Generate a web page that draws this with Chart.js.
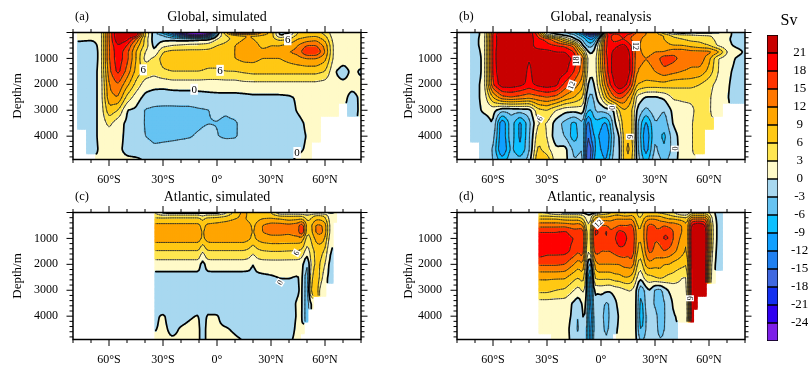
<!DOCTYPE html>
<html>
<head>
<meta charset="utf-8">
<title>Overturning streamfunction</title>
<script src="https://cdn.jsdelivr.net/npm/chart.js@4/dist/chart.umd.min.js"></script>
<style>
body { margin: 0; background: #fff; }
canvas { position: absolute; }
</style>
</head>
<body>
<canvas id="a" width="400" height="185" style="left:0;top:0"></canvas>
<canvas id="b" width="360" height="185" style="left:400px;top:0"></canvas>
<canvas id="c" width="400" height="185" style="left:0;top:180px"></canvas>
<canvas id="d" width="360" height="185" style="left:400px;top:180px"></canvas>
<canvas id="bar" width="68" height="370" style="left:740px;top:0"></canvas>
<script>
var n = null;

// Depth rows shared by the four panels (m)
var depths = [0,100,250,500,750,1000,1500,2000,2500,3000,3500,4000,4500,4900];

// Contour levels and colour boxes, low to high
var levels = [-24,-21,-18,-15,-12,-9,-6,-3,0,3,6,9,12,15,18,21];
var colors = ['#7d1fe8','#3000f0','#1430f0','#4068e0','#2080f0','#10a0ff','#0cc0ff','#66c3f2','#a8d8f0','#fffac8','#ffe650','#ffc814','#ffa500','#ff7700','#ff3300','#ff0000','#c80000'];

var latTicks = [-60,-30,0,30,60];
var latLabels = ['60°S','30°S','0°','30°N','60°N'];
var depthTicks = [1000,2000,3000,4000];

// (a) Global, simulated
var latsA = [-80,-75,-70,-65,-60,-55,-50,-45,-40,-35,-30,-25,-20,-15,-10,-5,0,5,10,15,20,25,30,35,40,45,50,55,60,65,70,75,80];
var globalSim = [
  [n,2,1,.5,15,25,26,25,6,-1.5,-8,-14,-24,-30,-30,-30,-3,9,22,22,20,12,8,-1,-1,6,7,7,5,1,1,1,1],
  [n,1,1,.5,15,25,26,24,6,-1.5,-3,-8,-14,-22,-24,-18,0,6,8,9,9,9,8,-.8,2,7,8,8,6,1,1,1,1],
  [n,.5,.3,.5,15,24,22,15,5,-1.5,-1,-1,-1.5,-1.5,-1,-.5,3,5,7,9,9,7,7,5,6,9,10,11,8,1.5,1,1,1],
  [n,-1,-1,.5,15,21,18,11,5,-1,2,3,3.5,4,4,4.5,6,7,9,11,11,8,9,9,10,12,15,15,11,2,1,1,1],
  [n,-1.5,-1.5,.5,15,20,16,9,3,.3,6,7,7,7,7,7,7.5,8,9,11,11,10,10,10,12,13,18.5,18.5,12,2,1,1,1],
  [n,-1.5,-1.5,.5,15,20,16,9,2,3.5,7.5,8,8,8,8,7.5,7.5,8,9,10,10,9,9,9,10,11,12,12,10,2,1,1,1],
  [n,-1,-1,.5,14,19,14,8,5,4,5.5,6,6,6,6,5.5,5.5,6,6,6.5,7,7,7,7,7,7,7,7,6,.3,-1,.5,-.3],
  [n,-1,-1,.5,12,15,10,5,1.5,1,1,1.5,1.5,1.5,1.5,1.5,1.5,1.5,1.5,2,2,2,2,2,2,2,2,2,1.5,.5,.5,.5,.5],
  [n,-1,-1,.5,11,12,5,1.5,-.8,-1.5,-1.8,-1.8,-1.6,-1.6,-1.3,-1,-.8,-.8,-.8,-.8,-.5,-.5,-.5,-.5,-.3,.3,.5,.5,.5,.5,.5,-.5,.3],
  [n,-1,-1,.5,8,6,-.1,-.5,-3.2,-3.6,-3.6,-3.6,-3.6,-3.6,-3.3,-3.1,-2.3,-2.6,-1.6,-1,-1,-1,-1,-1,-.7,.2,.8,.8,.8,.5,n,-1,.5],
  [n,-1,-1,.5,4,1,-.5,-1,-3.2,-4,-4,-4,-4,-4,-3.6,-3.1,-3.1,-3.6,-3.5,-1.5,-1.5,-1.5,-1.5,-1.2,-1,-.5,.3,.6,n,n,n,n,n],
  [n,n,-1,.5,1.2,.7,-.5,-1,-3,-3.7,-3.7,-3.7,-3.5,-3.2,-2.5,-1.5,-2.9,-3.5,-3.3,-2,-1.5,-1.5,-1.5,-1.3,-1,-.6,.1,.4,n,n,n,n,n],
  [n,n,-1,.3,.5,.4,-.5,-1,-1.5,-2.5,-2.2,-1.8,-1.5,-1.5,-1.2,-1,-1,-1,-1.2,-1.2,-1.2,-1.2,-1.2,-1,-.8,-.3,.2,n,n,n,n,n,n],
  [n,n,n,.3,.5,.4,.3,.3,-.1,-.3,-.3,-.3,-.3,-.3,-.3,-.3,-.3,-.3,-.3,-.3,-.3,-.3,-.3,-.3,-.3,.3,.3,n,n,n,n,n,n]
];

// (b) Global, reanalysis
var latsB = [-80,-75,-70,-65,-60,-55,-50,-45,-40,-35,-30,-25,-20,-15,-10,-7.5,-5,-2.5,0,2.5,5,7.5,10,12.5,15,17.5,20,25,30,35,40,45,50,55,60,65,70,75,80];
var globalRea = [
  [n,n,-1,1,18,24,25,25,24,15,-.5,-1.5,-3,-6,-14,-26,-26,-26,-25,18,23,23,22,21,21,20,14,12,10,3,-1,-2,-1,-1,-1,-.5,.5,-.5,-1],
  [n,n,-1,1,19,24,25,25,24,17,5,1,-.7,-2,-8,-13,-15,-12,-2,16,20,14,17,20,17,15,13,12,11,9,5,4,3.5,3,3,2,.7,-.7,-1],
  [n,n,-1,1.5,19,24,25,25,23,19,17,12,6,.5,-4,-8,-10,-4,5,18,19,16,17,18,16,14,13,11,10,9,7,6,5,5,4,2,.5,-1,-1],
  [n,n,-1,1.5,19,24,25,25,22,20,19,18,17,14,-.5,-4,-4,1,8,18,19,20,21,22,20,17,13,10,11,10,9,9,8,7,6,2.5,.7,-.5,-1],
  [n,n,-2,1.5,19,25,25,25,21,22,22,21,21,18,8,-.1,-.5,2,9,18,20,22,23,24,22,18,13,11,12,12,14,14,13,13,13,10,3,1,-.3,-1],
  [n,n,-3,1.5,19,25,25,24,21,23,24,23,23,20,14,2,.8,2.5,10,17,20,23,25,25,23,18,13,12,13,17,16,14,13,14,10,3,1.5,-.2,-1],
  [n,n,-3,1.5,19,24,25,24,20,24,24,23,22,18,13,1.5,.7,2.5,9,16,20,23,25,25,23,18,12,11,12,14,13,12,11.5,11,8,3,.7,-.7,-1],
  [n,n,-1.5,1.5,18,23,23,22,20,22,23,22,17,14,10,-.3,-1.5,2,7,13,18,21,24,23,20,15,9,8,8,8,7,7,7,6,4,2,.4,-1,-1],
  [n,n,-1,1,9,14,15,14,13,14,15,14,11,9,6,-3,-4,0,3,8,12,15,16,15,12,9,2,-.3,-.5,.5,3.5,3.5,3.5,3.5,3.5,1,.3,-1.5,-1.5],
  [n,n,-1,.5,1,-2,-2,-1.5,-1.3,5,6,3,1,1,1.5,-6,-6,-2,-2.5,-1.5,-1,.3,6,9,8,6,-.5,-4,-1,-3,.8,2,2.5,4,3.5,.7,n,n,n],
  [n,n,-1,-1.5,.2,-12,-4,-10,-4,3,3,-1.5,-4,-7,-3,-15,-8,-7,-8,-10,-6,-.3,2,8,9,6,-2,-10,-3,-5,.3,2,2.8,4,3.5,n,n,n,n],
  [n,n,-1.5,-2.5,-1.5,-12,-4,-10,-3.5,5,3,-2,-3,-8,-3,-17,-10,-8,-10,-13,-8,-2,-.5,7,9,6,-2,-12,-3,-7,-1.5,1.5,2.8,4,n,n,n,n,n],
  [n,n,n,-1.5,-3,-13,-5,-9,-3.5,7,4,.5,1,-4,-3,-19,-14,-7,-9,-12,-7,-1.5,-1.5,7,10,7,-1.5,-11,-2,-6,-2,1.5,2.8,4,n,n,n,n,n],
  [n,n,n,-.5,-3,-8,-4,-5,-2,9,8,1,1,-3,-2,-20,-12,-6,-7,-10,-5,-1,-1.5,7,9,6,-1,-8,-1,-4,-1.5,1.5,2.8,n,n,n,n,n,n]
];

// (c) Atlantic, simulated
var latsC = [-34,-30,-25,-20,-15,-10,-8,-6,-4,0,5,10,15,18,20,22,25,30,35,40,45,47.5,50,52,55,57.5,60,62,64,66];
var atlanticSim = [
  [3,-1,-2,-2,-2,-2,-1,-2,-2,-2,2,7,10,8,6,8,8,6,-.5,-.5,-.5,-.5,-.5,-.5,-.5,-.5,-.5,-.5,-.3,.2],
  [3.5,3,3.5,3.5,3.5,3.5,2,3.5,3.5,3.5,5,8,10,8,6,8,8,7,5,5,5,4.5,3,4,6,6,5,2,.5,.2],
  [7,7,7,7,7,7,5,7,7,7.5,8,9,9.5,8,6.5,8,9,9.5,9,8,8.5,9,5,6,8.5,8.5,7,3,.5,-.1],
  [9.8,9.8,9.8,9.8,9.8,9.8,7.5,9.5,9.8,10,10.5,10.8,11,10,8,10,12,13.5,13.5,13,14,18,7,8,12.5,12.5,11,4,.5,n],
  [11,11,11,11,11,11,8,10.5,11,11,11,11,11,10,8.5,10,12,13,13,12.5,14,19,6,7.5,12.5,13,11,4,.5,n],
  [10.5,10.5,10.5,10.5,10.5,10.5,8,10,10.5,10.5,10.5,10.5,10.5,9.5,8,9.5,10.5,11,11,11,11,11,4,6,10,11,9,3,.3,n],
  [5.7,5.7,5.7,5.7,5.7,5.7,2.5,5.5,5.7,5.7,5.7,5.7,5.7,5,3.5,5,5.7,6,6,5.8,5.7,5,1,4,7,7,5.5,1,-.5,n],
  [1.5,1.5,1.5,1.5,1.5,1.5,-1.8,1.2,1.5,1.5,1.5,1.5,1.5,1.2,-.3,1.2,1.5,1.5,1.5,1.5,1.5,1,-4,3,7,6,3,-.2,-1,n],
  [-1.2,-1.2,-1.2,-1.2,-1.2,-1.2,-2.2,-1.2,-1.2,-1.2,-1.2,-1.2,-1.2,-1.2,-1,-.8,-.6,-.3,.1,.1,-.2,1,-6,4,9,5,.5,-.2,-1,n],
  [-1.5,-1.5,-1.5,-1.5,-1.5,-1.5,-3.5,-1.5,-1.5,-1.5,-1.5,-1.5,-1.5,-1.5,-1.5,-1.5,-1.5,-1.2,-1,-.8,-.3,.8,-6,6,10,.7,.3,n,n,n],
  [-1.5,-1.5,-1.5,-1.5,-1.5,-1.5,-3.5,-1.5,-1.5,-1.5,-1.5,-1.5,-1.5,-1.5,-3.2,-1.5,-1.5,-1.2,-1,-.8,.3,.6,-6,.5,n,n,n,n,n,n],
  [-.3,.3,-1,-.7,-.2,.2,-2,.2,.2,.2,-1,-1.2,-1.4,-1.5,-3.2,-1.5,-1.5,-1.5,-1.5,-1,.3,.5,-6,n,n,n,n,n,n,n],
  [-.1,.5,-.5,.2,.5,.5,-1.5,.5,.5,.3,.2,-.3,-1,-1,-1,-1,-1,-1,-1,-.8,.5,.3,n,n,n,n,n,n,n,n],
  [.3,.5,.2,.3,.5,.5,-1.5,.5,.5,.5,.5,.3,-.1,-.1,-.1,-.1,-.1,-.1,-.2,-.3,.5,n,n,n,n,n,n,n,n,n]
];

// (d) Atlantic, reanalysis
var latsD = [-34,-30,-25,-20,-15,-12.5,-10,-8,-6,-4,-2,0,3,5,8,10,13,15,17.5,20,22,25,27,30,33,35,38,40,45,48,50,53,55,58,60,62,65,67];
var atlanticRea = [
  [3,2,-.5,-1,-1,-1,-1,-2,-3,-2,-1,2,4,5,7,7,5,6,8,6,5,7,7,6,5,5,4,3,-.5,-.5,4,4,4,4,3,.5,-.7,-.7],
  [5,5,4,4,4,4,3,1,0,5,7,7,7,8,9,9,8,8,9,6,5,8,8,8,8,7,6,5,3,3,8,8,8,8,5,1,-1,-1],
  [9,9,9,8,8,8,6,2,1,9,11,11,11,11,12,12,12,12,12,7,6,11,12,12,11,10,9,9,8,7,15,15,15,15,9,2,-1,-1],
  [14,14,14,14,13,14,12,4,3,15,17,15,15,14,14,15,15,15,16,9,8,14,16,15,14,15,14,14,12,9,21,24,24,21,10,3,-1,-1],
  [18,18,18,18.5,16.5,16,18,5,4,18,19,16,19,15,17,19,18,17,18,10,9,14,18,15,16,18,17,15,12,9,23,26,26,24,12,3,-1,-1],
  [19,19,19,19,18,16,19,5,4,18,17,15,18.5,15,18,20,19.5,17,19,10,9,14,19,15,16,18.5,18,15,11,9,23,26,26,24,12,3,-1,-1],
  [20,19,19,19,17,15,18,4,3,16,16,15,15,15,16,17,17,16,18,9,7,13,16,14,14,15,14,13,10,8,23,26,26,24,12,2,-1,-1],
  [15.5,15.5,15.5,15,12,10,12,2,-6,9,12,12,12,12,12,12,13,13,14,6,4,10,11,10,10,9,9,8,7,6,23,26,26,24,8,1,-1,-1],
  [9.5,9.5,9.5,9.5,7,6,8,1,-14,6,7,7,7,7,8,8,9,9,8,3,.5,5,5,6,7,6,5,5,3,3,23,26,26,24,8,.2,n,n],
  [7,7,6,5.5,3,1.5,4,1,-15,1,.8,1,.5,.3,1.2,1.5,2.5,3,3,-.5,-6,-1.5,.3,-3.5,-4,-1.5,.5,1,2,2,23,26,26,23,n,n,n,n],
  [1.5,1.5,1.5,1.5,-.5,-2,1,.3,-13,-.5,-2.5,-1.5,-3.5,-2.5,-.5,1,2,2,2.5,-.5,-8,-2,.3,-4,-6,-3,-1.5,.5,1,1,23,26,n,n,n,n,n,n],
  [1.2,1.2,1.2,1.2,-.7,-4,.7,-1,-15,-1,-3,-1.5,-5,-2,-1.5,.5,1,1.5,3,-.7,-9,-3,.4,-1,-6,-3,-1.8,-.2,.5,.7,23,n,n,n,n,n,n,n],
  [1.2,1.2,1.2,1.2,-1.5,-4,.3,-2,-13,-1.5,-3,-1.5,-4,-2,-.5,.5,.8,1.5,3,-.8,-7,-3,.4,-1,-5,-3,-1.5,-.2,n,n,n,n,n,n,n,n,n,n],
  [n,n,1,1,-1,-3,.3,-2,-13,-1,-2,-1,-3,-1,n,.3,.8,1.5,3,-.5,-4,-2,.3,-1,-3,-2,-1,-.2,n,n,n,n,n,n,n,n,n,n]
];

// Contour labels: [lat, depth, text, angle]
var labelsA = [[39.3,280,'6',0],[-41,1440,'6',0],[1.7,1460,'6',0],[-12.7,2190,'0',0],[44.5,4630,'0',0]];
var labelsB = [[-13.6,1080,'18',-90],[-16.4,2040,'12',-70],[6,2900,'0',90],[-34,3320,'6',-60],[16,4020,'6',90],[19.4,520,'12',90],[41,4480,'0',90]];
var labelsC = [[44,1560,'6',-60],[35,2700,'0',-60]];
var labelsD = [[-1.5,420,'12',-45],[49.4,3310,'6',90]];

var serif = 'Liberation Serif';
Chart.defaults.font.family = serif;
Chart.defaults.color = '#000';

function bracket(list, v) {
  var i = 0;
  while (i < list.length - 2 && list[i + 1] <= v) i++;
  return i;
}

// Resample a panel's grid to 1 degree by 50 m for contouring
function resample(lats, rows) {
  var xs = [], ys = [], f = [];
  for (var x = lats[0]; x <= lats[lats.length - 1]; x += 1) xs.push(x);
  for (var y = 0; y <= 4900; y += 50) ys.push(y);
  ys.forEach(function (yy) {
    var j = bracket(depths, yy), v = (yy - depths[j]) / (depths[j + 1] - depths[j]);
    f.push(xs.map(function (xx) {
      var i = bracket(lats, xx), u = (xx - lats[i]) / (lats[i + 1] - lats[i]);
      var near = rows[v < .5 ? j : j + 1][u < .5 ? i : i + 1];
      if (near === null) return null;
      function at(r, c) { var q = rows[r][c]; return q === null ? near : q; }
      return (1 - v) * ((1 - u) * at(j, i) + u * at(j, i + 1)) + v * ((1 - u) * at(j + 1, i) + u * at(j + 1, i + 1));
    }));
  });
  // light smoothing so the cell corners don't show in the contours
  var s = f.map(function (row, r) {
    return row.map(function (val, c) {
      if (val === null) return null;
      var sum = 0, w = 0;
      for (var dr = -1; dr <= 1; dr++) for (var dc = -1; dc <= 1; dc++) {
        var q = (f[r + dr] || [])[c + dc];
        if (q === null || q === undefined) continue;
        var k = (dr === 0 ? 2 : 1) * (dc === 0 ? 2 : 1);
        sum += q * k; w += k;
      }
      return sum / w;
    });
  });
  return { xs: xs, ys: ys, f: s };
}

function bandDatasets(g) {
  var pts = colors.map(function () { return []; });
  g.ys.forEach(function (y, r) {
    g.xs.forEach(function (x, c) {
      var val = g.f[r][c];
      if (val === null) return;
      var b = 0;
      while (b < levels.length && val >= levels[b]) b++;
      pts[b].push({ x: x, y: y });
    });
  });
  return pts.map(function (p, b) {
    return { type: 'scatter', data: p, order: 2, backgroundColor: colors[b], pointStyle: 'rect', pointRadius: 1.75, pointBorderWidth: 0, pointHoverRadius: 1.75 };
  });
}

function contour(g, level) {
  var out = [], f = g.f;
  function cross(x0, y0, a, x1, y1, b) {
    var t = (level - a) / (b - a);
    return { x: x0 + t * (x1 - x0), y: y0 + t * (y1 - y0) };
  }
  for (var r = 0; r < g.ys.length - 1; r++) {
    for (var c = 0; c < g.xs.length - 1; c++) {
      var a = f[r][c], b = f[r][c + 1], e = f[r + 1][c + 1], d = f[r + 1][c];
      if (a === null || b === null || e === null || d === null) continue;
      var x0 = g.xs[c], x1 = g.xs[c + 1], y0 = g.ys[r], y1 = g.ys[r + 1], p = [];
      if ((a >= level) !== (b >= level)) p.push(cross(x0, y0, a, x1, y0, b));
      if ((b >= level) !== (e >= level)) p.push(cross(x1, y0, b, x1, y1, e));
      if ((e >= level) !== (d >= level)) p.push(cross(x1, y1, e, x0, y1, d));
      if ((d >= level) !== (a >= level)) p.push(cross(x0, y1, d, x0, y0, a));
      if (p.length >= 2) out.push(p[0], p[1], { x: null, y: null });
      if (p.length === 4) out.push(p[2], p[3], { x: null, y: null });
    }
  }
  return out;
}

function lineDataset(data, width, color) {
  return { type: 'scatter', data: data, order: 1, showLine: true, spanGaps: false, tension: 0.001, borderColor: color, borderWidth: width, borderCapStyle: 'round', pointRadius: 0 };
}

function drawFrame(chart) {
  var ctx = chart.ctx, a = chart.chartArea, sx = chart.scales.x, sy = chart.scales.y;
  ctx.save();
  ctx.strokeStyle = '#000';
  ctx.lineWidth = 1;
  for (var lat = -80; lat <= 80; lat += 10) {
    var px = sx.getPixelForValue(lat), lx = lat % 30 === 0 ? 6.5 : 3.5;
    ctx.beginPath();
    ctx.moveTo(px, a.top - lx); ctx.lineTo(px, a.top);
    ctx.moveTo(px, a.bottom); ctx.lineTo(px, a.bottom + lx);
    ctx.stroke();
  }
  for (var dp = 0; dp <= 4800; dp += 200) {
    var py = sy.getPixelForValue(dp), ly = dp % 1000 === 0 ? 6.5 : 3.5;
    ctx.beginPath();
    ctx.moveTo(a.left - ly, py); ctx.lineTo(a.left, py);
    ctx.moveTo(a.right, py); ctx.lineTo(a.right + ly, py);
    ctx.stroke();
  }
  ctx.lineWidth = 1.5;
  ctx.strokeRect(a.left, a.top, a.right - a.left, a.bottom - a.top);
  ctx.restore();
}

function makePanel(id, lats, rows, cfg) {
  var g = resample(lats, rows);
  var thin = [];
  levels.forEach(function (l) { if (l !== 0) thin = thin.concat(contour(g, l)); });
  var sets = [lineDataset(contour(g, 0), 1.7, '#000'), lineDataset(thin, 0.7, '#222')].concat(bandDatasets(g));
  var decor = {
    id: 'decor',
    afterDraw: function (chart) {
      var ctx = chart.ctx, a = chart.chartArea;
      ctx.save();
      cfg.labels.forEach(function (m) {
        var px = chart.scales.x.getPixelForValue(m[0]), py = chart.scales.y.getPixelForValue(m[1]);
        ctx.save();
        ctx.translate(px, py);
        ctx.rotate(m[3] * Math.PI / 180);
        ctx.font = cfg.labelSize + 'px "' + serif + '"';
        var w = ctx.measureText(m[2]).width + 2;
        ctx.fillStyle = '#fff';
        ctx.fillRect(-w / 2, -cfg.labelSize / 2, w, cfg.labelSize);
        ctx.fillStyle = '#000';
        ctx.textAlign = 'center';
        ctx.textBaseline = 'middle';
        ctx.fillText(m[2], 0, 0.5);
        ctx.restore();
      });
      drawFrame(chart);
      ctx.fillStyle = '#000';
      ctx.textBaseline = 'middle';
      ctx.font = '14px "' + serif + '"';
      ctx.textAlign = 'center';
      ctx.fillText(cfg.title, (a.left + a.right) / 2, 17);
      ctx.textAlign = 'left';
      ctx.font = '12.5px "' + serif + '"';
      ctx.fillText(cfg.tag, a.left + 2, 17);
      ctx.restore();
    }
  };
  return new Chart(document.getElementById(id), {
    type: 'scatter',
    data: { datasets: sets },
    plugins: [decor],
    options: {
      responsive: false,
      animation: false,
      events: [],
      layout: { padding: { top: 32.5, right: cfg.right, left: 0, bottom: 0 } },
      plugins: { legend: { display: false }, tooltip: { enabled: false } },
      scales: {
        x: {
          type: 'linear', min: -80, max: 80,
          grid: { display: false }, border: { display: false },
          afterFit: function (s) { s.height = 25.5; },
          afterBuildTicks: function (s) { s.ticks = latTicks.map(function (v) { return { value: v }; }); },
          ticks: {
            autoSkip: false, maxRotation: 0, padding: 5, font: { size: 12 },
            callback: function (v) { return latLabels[latTicks.indexOf(v)]; }
          }
        },
        y: {
          type: 'linear', reverse: true, min: 0, max: 4900,
          grid: { display: false }, border: { display: false },
          afterFit: function (s) { s.width = cfg.axis; },
          afterBuildTicks: function (s) { s.ticks = depthTicks.map(function (v) { return { value: v }; }); },
          title: { display: true, text: 'Depth/m', font: { size: 13 }, padding: { top: cfg.titlePad, bottom: 0 } },
          ticks: { autoSkip: false, padding: 7, font: { size: 12 }, callback: function (v) { return String(v); } }
        }
      }
    }
  });
}

makePanel('a', latsA, globalSim, { title: 'Global, simulated', tag: '(a)', right: 39, axis: 73, titlePad: 10, labels: labelsA, labelSize: 11 });
makePanel('b', latsB, globalRea, { title: 'Global, reanalysis', tag: '(b)', right: 15, axis: 57, titlePad: 1, labels: labelsB, labelSize: 8 });
makePanel('c', latsC, atlanticSim, { title: 'Atlantic, simulated', tag: '(c)', right: 39, axis: 73, titlePad: 10, labels: labelsC, labelSize: 8 });
makePanel('d', latsD, atlanticRea, { title: 'Atlantic, reanalysis', tag: '(d)', right: 15, axis: 57, titlePad: 1, labels: labelsD, labelSize: 8 });

// Colour bar
var barEdges = [-27].concat(levels, [24]);
new Chart(document.getElementById('bar'), {
  type: 'bar',
  data: {
    labels: ['Sv'],
    datasets: colors.map(function (c, i) {
      return { data: [[barEdges[i], barEdges[i + 1]]], backgroundColor: c, borderColor: '#000', borderWidth: 1, borderSkipped: false };
    })
  },
  plugins: [{
    id: 'unit',
    afterDraw: function (chart) {
      var ctx = chart.ctx;
      ctx.save();
      ctx.fillStyle = '#000';
      ctx.font = '16px "' + serif + '"';
      ctx.textAlign = 'center';
      ctx.textBaseline = 'middle';
      ctx.fillText('Sv', 49, 21);
      ctx.restore();
    }
  }],
  options: {
    responsive: false,
    animation: false,
    events: [],
    layout: { padding: { top: 35, bottom: 29, left: 27, right: 0 } },
    plugins: { legend: { display: false }, tooltip: { enabled: false } },
    datasets: { bar: { grouped: false, barPercentage: 1, categoryPercentage: 1 } },
    scales: {
      x: { display: false },
      y: {
        position: 'right', min: -27, max: 24,
        grid: { display: false }, border: { display: false },
        afterFit: function (s) { s.width = 30; },
        afterBuildTicks: function (s) { s.ticks = levels.map(function (v) { return { value: v }; }); },
        ticks: { autoSkip: false, padding: 5, crossAlign: 'center', font: { size: 13 } }
      }
    }
  }
});
</script>
</body>
</html>
